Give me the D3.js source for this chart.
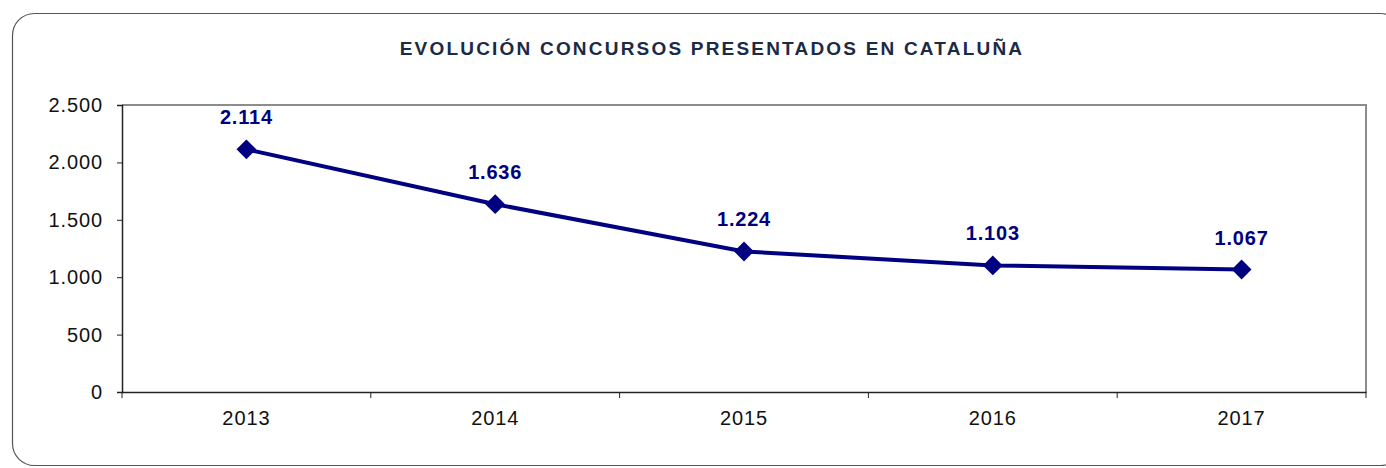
<!DOCTYPE html>
<html>
<head>
<meta charset="utf-8">
<script src="https://cdn.jsdelivr.net/npm/d3@7"></script>
<style>
  body { margin: 0; background: #fff; }
  svg { display: block; font-family: "Liberation Sans", Arial, sans-serif; }
</style>
</head>
<body>
<svg id="chart" width="1386" height="468"></svg>
<script>
// datos
const years = ['2013', '2014', '2015', '2016', '2017']
const concursos = [2114, 1636, 1224, 1103, 1067]
const yTicks = [0, 500, 1000, 1500, 2000, 2500]
const titulo = 'EVOLUCIÓN CONCURSOS PRESENTADOS EN CATALUÑA'

const svg = d3.select('#chart')
const margin = { left: 122, top: 105, right: 1366, bottom: 392 }
const fuente = '"Liberation Sans", Arial, sans-serif'
const miles = d => d3.format(',')(d).replace(/,/g, '.')

/*marco redondeado*/
svg.append('rect')
  .attr('x', 12.5).attr('y', 13.5)
  .attr('width', 1390).attr('height', 452)
  .attr('rx', 22).attr('ry', 22)
  .attr('fill', '#fff').attr('stroke', '#555').attr('stroke-width', 1.2)

svg.append('text')
  .attr('x', 712).attr('y', 55)
  .attr('text-anchor', 'middle')
  .attr('font-size', 19).attr('font-weight', 'bold')
  .attr('letter-spacing', 2.2)
  .attr('fill', '#1b2a45')
  .text(titulo)

const x = d3.scaleBand().domain(years).range([margin.left, margin.right])
const y = d3.scaleLinear().domain([0, 2500]).range([margin.bottom, margin.top])

/*borde del area de trazado*/
svg.append('path')
  .attr('d', `M${margin.left},${margin.top}H${margin.right}V${margin.bottom}`)
  .attr('fill', 'none').attr('stroke', '#8c8c8c').attr('stroke-width', 2)

const yAxis = svg.append('g')
  .attr('transform', `translate(${margin.left},0)`)
  .call(d3.axisLeft(y).tickValues(yTicks).tickSize(5).tickPadding(14).tickFormat(miles))
yAxis.select('.domain').attr('stroke', '#222').attr('stroke-width', 1.5)
yAxis.selectAll('.tick line').attr('stroke', '#222')
yAxis.selectAll('text').attr('font-size', 20).attr('letter-spacing', 0.9)
  .attr('fill', '#111').attr('font-family', fuente)

const xAxis = svg.append('g')
  .attr('transform', `translate(0,${margin.bottom})`)
  .call(d3.axisBottom(x).tickSize(0).tickPadding(19))
xAxis.select('.domain').attr('stroke', '#222').attr('stroke-width', 1.5)
xAxis.selectAll('text').attr('font-size', 20).attr('letter-spacing', 0.9)
  .attr('fill', '#111').attr('font-family', fuente)

// marcas entre categorias
const bordes = years.map(d => x(d)).concat([margin.right])
svg.append('g').selectAll('line')
  .data(bordes).enter().append('line')
  .attr('x1', d => d).attr('x2', d => d)
  .attr('y1', margin.bottom).attr('y2', margin.bottom + 6)
  .attr('stroke', '#222')

const cx = d => x(d) + x.bandwidth() / 2

const linea = d3.line()
  .x((d, i) => cx(years[i]))
  .y(d => y(d))

svg.append('path')
  .datum(concursos)
  .attr('d', linea)
  .attr('fill', 'none').attr('stroke', '#000080').attr('stroke-width', 4)

svg.append('g').selectAll('path')
  .data(concursos).enter().append('path')
  .attr('d', d3.symbol().type(d3.symbolDiamond2).size(250))
  .attr('transform', (d, i) => `translate(${cx(years[i])},${y(d)})`)
  .attr('fill', '#000080')

svg.append('g').selectAll('text')
  .data(concursos).enter().append('text')
  .attr('x', (d, i) => cx(years[i]))
  .attr('y', d => y(d) - 25)
  .attr('text-anchor', 'middle')
  .attr('font-size', 20).attr('font-weight', 'bold').attr('letter-spacing', 0.8)
  .attr('fill', '#000080')
  .text(miles)
</script>
</body>
</html>
